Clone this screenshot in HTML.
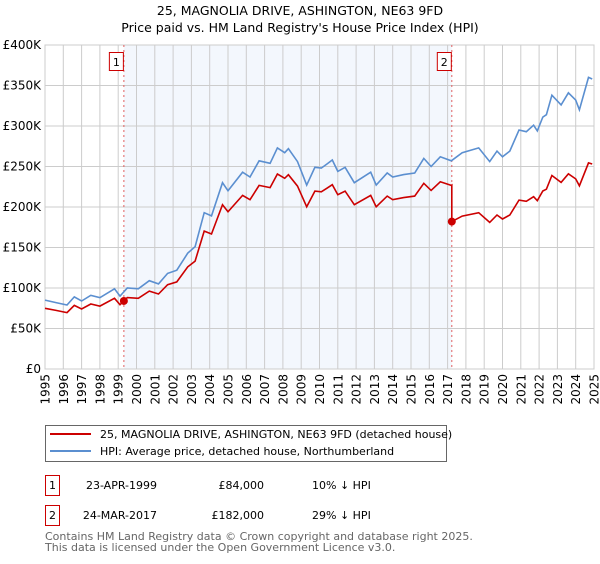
<!DOCTYPE html>
<html><head><meta charset="utf-8"><style>
body{margin:0;background:#fff;font-family:"DejaVu Sans","Liberation Sans",sans-serif;}
svg text{font-family:"DejaVu Sans","Liberation Sans",sans-serif;}
</style></head><body>
<svg id="chart" width="600" height="560" viewBox="0 0 600 560" xmlns="http://www.w3.org/2000/svg">
<text x="300" y="15" text-anchor="middle" font-size="12.5">25, MAGNOLIA DRIVE, ASHINGTON, NE63 9FD</text>
<text x="300" y="32" text-anchor="middle" font-size="12.5">Price paid vs. HM Land Registry's House Price Index (HPI)</text>
<g id="plot"></g>
<g>
<rect x="45.5" y="425.5" width="401" height="36" fill="#fff" stroke="#666"/>
<line x1="50" y1="434" x2="91" y2="434" stroke="#cc0000" stroke-width="2"/>
<text x="100" y="438" font-size="11">25, MAGNOLIA DRIVE, ASHINGTON, NE63 9FD (detached house)</text>
<line x1="50" y1="451" x2="91" y2="451" stroke="#5b8fd0" stroke-width="2"/>
<text x="100" y="455" font-size="11">HPI: Average price, detached house, Northumberland</text>
</g>
<g font-size="11">
<rect x="45.5" y="475.5" width="14" height="20" fill="#fff" stroke="#cc0000"/>
<text x="52.5" y="489" text-anchor="middle">1</text>
<text x="157" y="489" text-anchor="end">23-APR-1999</text>
<text x="264" y="489" text-anchor="end">£84,000</text>
<text x="312" y="489">10% ↓ HPI</text>
</g>
<g font-size="11">
<rect x="45.5" y="505.5" width="14" height="20" fill="#fff" stroke="#cc0000"/>
<text x="52.5" y="519" text-anchor="middle">2</text>
<text x="157" y="519" text-anchor="end">24-MAR-2017</text>
<text x="264" y="519" text-anchor="end">£182,000</text>
<text x="312" y="519">29% ↓ HPI</text>
</g>
<text x="45" y="540" font-size="11" fill="#666">Contains HM Land Registry data © Crown copyright and database right 2025.</text>
<text x="45" y="551" font-size="11" fill="#666">This data is licensed under the Open Government Licence v3.0.</text>
</svg>
<script>
const hpiYears=[1995.0,1995.6,1996.2,1996.6,1997.0,1997.5,1998.0,1998.8,1999.1,1999.5,2000.1,2000.7,2001.2,2001.7,2002.2,2002.8,2003.2,2003.7,2004.1,2004.7,2005.0,2005.8,2006.2,2006.7,2007.3,2007.7,2008.1,2008.3,2008.8,2009.3,2009.75,2010.1,2010.4,2010.7,2011.0,2011.4,2011.9,2012.8,2013.1,2013.7,2014.0,2014.6,2015.2,2015.7,2016.1,2016.6,2017.2,2017.8,2018.7,2019.3,2019.7,2020.0,2020.4,2020.9,2021.3,2021.7,2021.9,2022.2,2022.4,2022.7,2023.2,2023.6,2024.0,2024.2,2024.7,2024.9];
const hpiValues=[85,82,79,89,84,91,88,99,90,100,99,109,105,118,122,143,151,193,189,230,220,243,237,257,254,273,267,272,256,227,249,248,253,258,244,249,230,243,227,242,237,240,242,260,250,262,257,267,273,256,269,262,269,295,293,301,294,311,314,338,326,341,332,320,360,358];
const saleYears=[1999.31,2017.23];
const salePrices=[84,182];
const saleLabels=["1","2"];
const yTicks=[0,50,100,150,200,250,300,350,400];
const yTickLabels=["£0","£50K","£100K","£150K","£200K","£250K","£300K","£350K","£400K"];
const xTicks=[];for(let y=1995;y<=2025;y++)xTicks.push(y);

const X0=45,X1=594,Y0=369,Y1=45;
const xs=v=>X0+(v-1995)/(2025-1995)*(X1-X0);
const ys=v=>Y0-v/400*(Y0-Y1);
const NS="http://www.w3.org/2000/svg";
const plot=document.getElementById('plot');
function mk(tag,attrs,parent){const e=document.createElementNS(NS,tag);for(const k in attrs)e.setAttribute(k,attrs[k]);(parent||plot).appendChild(e);return e;}
function hpiAt(t){for(let i=0;i<hpiYears.length-1;i++){if(t<=hpiYears[i+1]){const f=(t-hpiYears[i])/(hpiYears[i+1]-hpiYears[i]);return hpiValues[i]+f*(hpiValues[i+1]-hpiValues[i]);}}return hpiValues[hpiValues.length-1];}

const shade=mk('rect',{x:xs(saleYears[0]),y:Y1,width:xs(saleYears[1])-xs(saleYears[0]),height:Y0-Y1,fill:'#eef3fc',opacity:0.7});


yTicks.forEach((v,i)=>{
  const g=mk('line',{x1:X0,x2:X1,y1:ys(v),y2:ys(v),stroke:'#cccccc','stroke-width':1});
  
  
  const t=mk('text',{x:X0-4,y:ys(v)+4,'text-anchor':'end','font-size':12});
  
  
  t.textContent=yTickLabels[i];
});
xTicks.forEach(v=>{
  const g=mk('line',{x1:xs(v),x2:xs(v),y1:Y1,y2:Y0,stroke:'#cccccc','stroke-width':1});
  
  
  const tx=xs(v)+4.5, ty=Y0+5;
  const t=mk('text',{x:tx,y:ty,'text-anchor':'end','font-size':12,transform:'rotate(-90 '+tx+' '+ty+')'});
  
  
  t.textContent=v;
});
const frame=mk('rect',{x:X0,y:Y1,width:X1-X0,height:Y0-Y1,fill:'none',stroke:'#cccccc'});


saleYears.forEach((s,i)=>{
  const l=mk('line',{x1:xs(s),x2:xs(s),y1:Y1,y2:Y0,stroke:'#e06060','stroke-width':1,'stroke-dasharray':'2,3'});
  
  
  const r=mk('rect',{x:xs(s)-14.5,y:52.5,width:14,height:18,fill:'#fff',stroke:'#cc0000'});
  
  
  const t=mk('text',{x:xs(s)-7.5,y:66,'text-anchor':'middle','font-size':11});
  
  
  t.textContent=saleLabels[i];
});
let d='';hpiYears.forEach((t,i)=>{d+=(i?'L':'M')+xs(t).toFixed(1)+','+ys(hpiValues[i]).toFixed(1);});
const hp=mk('path',{d:d,fill:'none',stroke:'#5b8fd0','stroke-width':1.6});


const r0=salePrices[0]/hpiAt(saleYears[0]), r1=salePrices[1]/hpiAt(saleYears[1]);
let pd='';let first=true;
hpiYears.forEach((t,i)=>{
  if(t>saleYears[1]&&hpiYears[i-1]<=saleYears[1]){
    pd+='L'+xs(saleYears[1]).toFixed(1)+','+ys(hpiAt(saleYears[1])*r0).toFixed(1);
    pd+='L'+xs(saleYears[1]).toFixed(1)+','+ys(salePrices[1]).toFixed(1);
  }
  const r=t<=saleYears[1]?r0:r1;
  pd+=(first?'M':'L')+xs(t).toFixed(1)+','+ys(hpiValues[i]*r).toFixed(1);first=false;
});
const pp=mk('path',{d:pd,fill:'none',stroke:'#cc0000','stroke-width':1.6});


saleYears.forEach((s,i)=>{
  const c=mk('circle',{cx:xs(s),cy:ys(salePrices[i]),r:4,fill:'#cc0000'});
  
  
});
</script>
</body></html>
